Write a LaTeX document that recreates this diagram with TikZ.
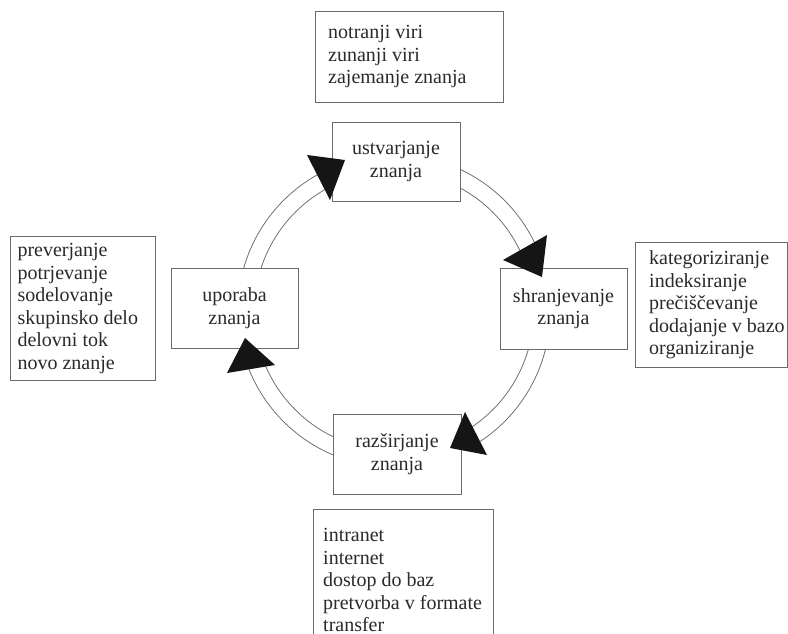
\documentclass[tikz,border=0pt]{standalone}
\usepackage{fontspec}
\setmainfont{Liberation Serif}
\usetikzlibrary{calc}
\definecolor{txt}{HTML}{2A2A2A}
\definecolor{lin}{HTML}{6A6A6A}
\definecolor{arr}{HTML}{151515}
\begin{document}
\begin{tikzpicture}[x=1pt,y=-1pt,
  every node/.style={font=\fontsize{20}{22.5}\selectfont, text=txt},
  stagebox/.style={draw=lin, fill=white, line width=0.9pt, align=center, inner sep=0pt},
  infobox/.style={draw=lin, fill=white, line width=0.9pt, inner sep=0pt, anchor=north west},
  infotext/.style={align=left, inner sep=0pt, anchor=west},
  ring/.style={draw=lin, line width=0.9pt, double=white, double distance=15.6pt},
  head/.style={fill=arr}]
\clip (0,0) rectangle (788,634);
\fill[white] (0,0) rectangle (788,634);
\coordinate (C) at (394,311);
% ring segments
\coordinate (sA) at ($(C)+(190:148)$);
\coordinate (sB) at ($(C)+(275:148)$);
\coordinate (sC) at ($(C)+(5:148)$);
\coordinate (sD) at ($(C)+(100:148)$);
\draw[ring] (sA) arc[start angle=190, end angle=242, radius=148];
\draw[ring] (sB) arc[start angle=275, end angle=336, radius=148];
\draw[ring] (sC) arc[start angle=5, end angle=58, radius=148];
\draw[ring] (sD) arc[start angle=100, end angle=160, radius=148];
% stage boxes
\node[stagebox, minimum width=128, minimum height=79] (ustv) at (396,161.5) {ustvarjanje\\znanja};
\node[stagebox, minimum width=127, minimum height=81] (shran) at (563.5,308.5) {shranjevanje\\znanja};
\node[stagebox, minimum width=127, minimum height=80] (upor) at (234.5,308) {uporaba\\znanja};
\node[stagebox, minimum width=128, minimum height=80] (razs) at (397,454) {razširjanje\\znanja};
% info boxes
\node[infobox, minimum width=188, minimum height=91] (itop) at (315,11) {};
\node[infotext] (ttop) at ([xshift=13pt]itop.west) {notranji viri\\zunanji viri\\zajemanje znanja};
\node[infobox, minimum width=145, minimum height=144] (ileft) at (10,236) {};
\node[infotext] (tleft) at ([xshift=7.3pt]ileft.west)
  {preverjanje\\potrjevanje\\sodelovanje\\skupinsko delo\\delovni tok\\novo znanje};
\node[infobox, minimum width=152, minimum height=125] (iright) at (635,242) {};
\node[infotext] (tright) at ([xshift=14pt]iright.west)
  {kategoriziranje\\indeksiranje\\prečiščevanje\\dodajanje v bazo\\organiziranje};
\node[infobox, minimum width=180, minimum height=142] (ibot) at (313,509) {};
\node[infotext] (tbot) at ([xshift=10pt]ibot.west)
  {intranet\\internet\\dostop do baz\\pretvorba v formate\\transfer};
% arrow heads
\fill[head] (307,155) -- (330,200) -- (345,160) -- cycle;
\fill[head] (503,260) -- (547,235) -- (542,277) -- cycle;
\fill[head] (465,412) -- (487,455) -- (450,448) -- cycle;
\fill[head] (227,373) -- (275,365) -- (245,338) -- cycle;
\end{tikzpicture}
\end{document}
